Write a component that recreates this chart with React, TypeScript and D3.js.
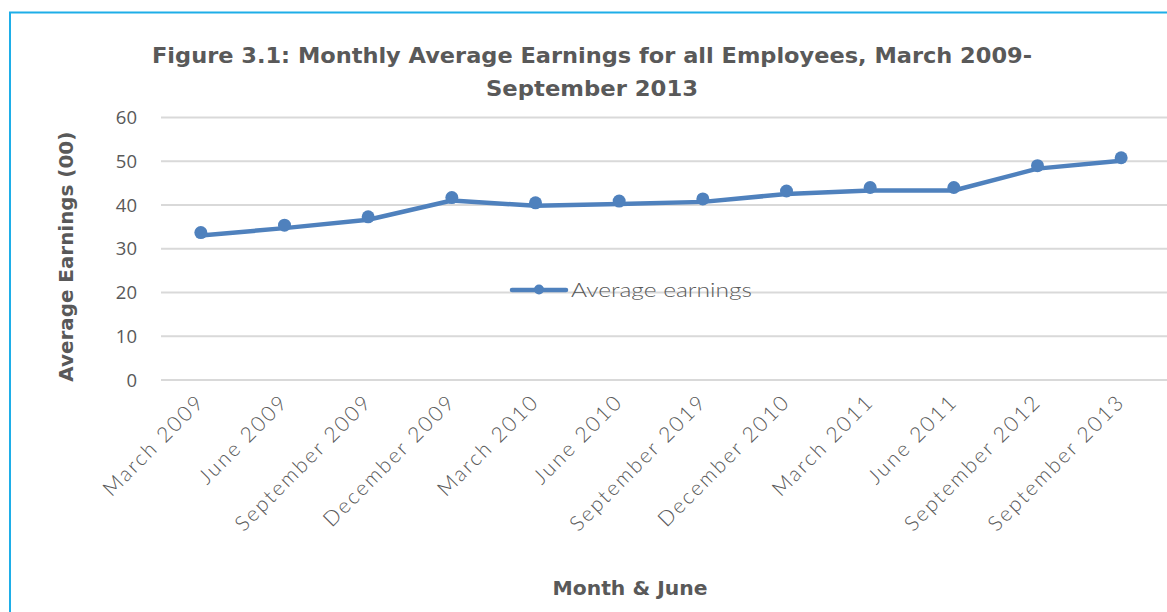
import React from "react";
import * as d3 from "d3";

const categories = [
  "March 2009", "June 2009", "September 2009", "December 2009", "March 2010", "June 2010",
  "September 2019", "December 2010", "March 2011", "June 2011", "September 2012", "September 2013",
];
const earnings = [33.7, 35.4, 37.3, 41.7, 40.5, 40.9, 41.4, 43.2, 44.0, 44.0, 49.0, 50.8];
const yTicks = [0, 10, 20, 30, 40, 50, 60];
const seriesName = "Average earnings";
const titleLines = ["Figure 3.1: Monthly Average Earnings for all Employees, March 2009-", "September 2013"];
const yTitle = "Average Earnings (00)";
const xTitle = "Month & June";

const W = 1167, H = 612;
const plot = { left: 159, right: 1163, top: 117.5, bottom: 380 };
const grey = "#595959";
const blue = "#4F81BD";
const labelFont = "Lato, 'Open Sans', sans-serif";
const boldFont = "'DejaVu Sans', 'Open Sans', sans-serif";

export default function App() {
  const x = d3.scaleBand<string>().domain(categories).range([plot.left, plot.right]);
  const y = d3.scaleLinear().domain([0, 60]).range([plot.bottom, plot.top]);
  const cx = (c: string) => (x(c) ?? 0) + x.bandwidth() / 2;
  const line = d3.line<number>().x((_, i) => cx(categories[i])).y((d) => y(d));

  return (
    <svg width={W} height={H} style={{ position: "absolute", left: 0, top: 0, background: "#fff" }}>
      <rect x={0} y={0} width={W} height={H} fill="#fff" />
      {/* border */}
      <path d={`M10,${H} L10,12.5 L${W},12.5`} fill="none" stroke="#1EAEE8" strokeWidth={2} />
      {/* title */}
      <text x={592} y={63} textAnchor="middle" fontFamily={boldFont} fontWeight="bold" fontSize={21} fill={grey}
        textLength={880} lengthAdjust="spacingAndGlyphs">{titleLines[0]}</text>
      <text x={592} y={96} textAnchor="middle" fontFamily={boldFont} fontWeight="bold" fontSize={21} fill={grey}
        textLength={212} lengthAdjust="spacingAndGlyphs">{titleLines[1]}</text>
      {/* grid */}
      {yTicks.map((t) => (
        <g key={t}>
          <line x1={plot.left + 2} x2={W} y1={y(t)} y2={y(t)} stroke="#D9D9D9" strokeWidth={2} />
          <text x={137} y={y(t)} dy="0.36em" textAnchor="end" fontFamily="'Open Sans', sans-serif" fontSize={18.5} fill={grey}>{t}</text>
        </g>
      ))}
      {/* y title */}
      <text transform={`translate(73,${(plot.top + plot.bottom) / 2 + 8}) rotate(-90)`} textAnchor="middle"
        fontFamily={boldFont} fontWeight="bold" fontSize={19} fill={grey} textLength={250} lengthAdjust="spacingAndGlyphs">{yTitle}</text>
      {/* x labels */}
      {categories.map((c) => (
        <text key={c} transform={`translate(${cx(c) + 5},${plot.bottom + 23}) rotate(-45)`} textAnchor="end"
          fontFamily={labelFont} fontWeight={300} fontSize={21} letterSpacing={2.2} fill={grey}>{c}</text>
      ))}
      {/* x title */}
      <text x={630} y={595} textAnchor="middle" fontFamily={boldFont} fontWeight="bold" fontSize={19} fill={grey}
        textLength={155} lengthAdjust="spacingAndGlyphs">{xTitle}</text>
      {/* series */}
      <path d={line(earnings) ?? ""} transform="translate(0,3)" fill="none" stroke={blue} strokeWidth={4.5} strokeLinejoin="round" strokeLinecap="round" />
      {earnings.map((v, i) => (
        <circle key={i} cx={cx(categories[i])} cy={y(v)} r={6.5} fill={blue} />
      ))}
      {/* legend */}
      <g>
        <line x1={512} x2={566} y1={290} y2={290} stroke={blue} strokeWidth={4.5} strokeLinecap="round" />
        <circle cx={539} cy={289.5} r={5} fill={blue} />
        <text x={571} y={290} dy="0.35em" fontFamily={labelFont} fontWeight={300} fontSize={20} fill={grey}
          textLength={181} lengthAdjust="spacingAndGlyphs">{seriesName}</text>
      </g>
    </svg>
  );
}
